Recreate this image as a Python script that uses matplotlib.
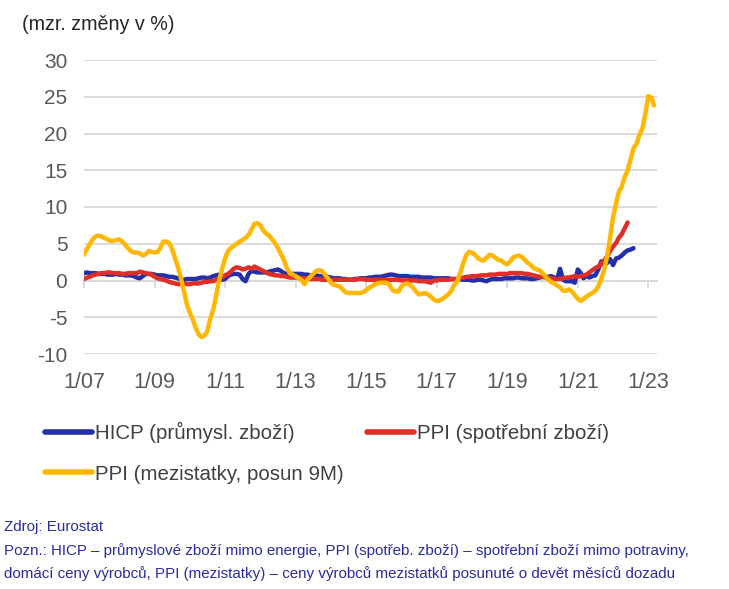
import matplotlib
matplotlib.use("Agg")
import matplotlib.pyplot as plt
import pandas as pd

plt.rcParams['font.family'] = ['Liberation Sans', 'DejaVu Sans']
plt.rcParams['axes.unicode_minus'] = False

title = "(mzr. změny v %)"
labels = ["HICP (průmysl. zboží)", "PPI (spotřební zboží)", "PPI (mezistatky, posun 9M)"]
x_ticks = ["2007-01", "2009-01", "2011-01", "2013-01", "2015-01", "2017-01", "2019-01", "2021-01", "2023-01"]
x_tick_labels = ["1/07", "1/09", "1/11", "1/13", "1/15", "1/17", "1/19", "1/21", "1/23"]
y_ticks = [-10, -5, 0, 5, 10, 15, 20, 25, 30]
source = "Zdroj: Eurostat"
note_lines = ["Pozn.: HICP – průmyslové zboží mimo energie, PPI (spotřeb. zboží) – spotřební zboží mimo potraviny,",
              "domácí ceny výrobců, PPI (mezistatky) – ceny výrobců mezistatků posunuté o devět měsíců dozadu"]

hicp = [
    1.0, 1.1, 1.0, 1.0, 1.0, 0.9, 0.9, 0.9, 0.8, 0.8, 0.8, 0.9,
    0.8, 0.8, 0.7, 0.7, 0.7, 0.6, 0.4, 0.3, 0.6, 0.9, 0.9, 0.9,
    0.8, 0.7, 0.7, 0.7, 0.6, 0.5, 0.5, 0.4, 0.3, 0.1, 0.1, 0.2,
    0.2, 0.2, 0.2, 0.3, 0.4, 0.4, 0.3, 0.4, 0.6, 0.7, 0.8, 0.1,
    0.2, 0.6, 0.8, 0.9, 0.9, 0.8, 0.2, -0.1, 0.9, 1.3, 1.2, 1.1,
    1.1, 1.1, 1.1, 1.2, 1.3, 1.4, 1.5, 1.3, 1.0, 0.9, 0.9, 0.9,
    0.9, 0.9, 0.9, 0.8, 0.8, 0.7, 0.7, 0.7, 0.6, 0.6, 0.6, 0.5,
    0.4, 0.3, 0.3, 0.3, 0.2, 0.2, 0.1, 0.1, 0.2, 0.2, 0.3, 0.3,
    0.3, 0.4, 0.4, 0.5, 0.5, 0.5, 0.6, 0.7, 0.8, 0.8, 0.7, 0.6,
    0.6, 0.6, 0.6, 0.5, 0.5, 0.5, 0.5, 0.4, 0.4, 0.4, 0.4, 0.3,
    0.3, 0.3, 0.3, 0.3, 0.3, 0.2, 0.2, 0.2, 0.2, 0.1, 0.1, 0.1,
    0.0, 0.0, 0.1, 0.1, 0.0, -0.1, 0.1, 0.2, 0.2, 0.2, 0.2, 0.3,
    0.3, 0.3, 0.3, 0.4, 0.4, 0.3, 0.3, 0.3, 0.2, 0.2, 0.3, 0.4,
    0.5, 0.5, 0.5, 0.6, 0.4, 0.2, 1.6, 0.1, -0.1, -0.1, -0.1, -0.3,
    1.5, 1.0, 0.3, 0.7, 0.4, 0.6, 0.7, 1.5, 2.6, 2.1, 2.4, 2.9,
    2.1, 3.0, 3.1, 3.4, 3.8, 4.1, 4.2, 4.4,
]

ppi_cons = [
    0.2, 0.4, 0.5, 0.7, 0.8, 0.9, 1.0, 1.0, 1.1, 1.1, 1.0, 1.0,
    1.0, 0.9, 0.9, 1.0, 1.0, 1.0, 1.0, 1.2, 1.1, 1.0, 0.9, 0.8,
    0.5, 0.3, 0.2, 0.1, 0.0, -0.2, -0.3, -0.4, -0.5, -0.5, -0.4, -0.5,
    -0.5, -0.4, -0.4, -0.4, -0.3, -0.2, -0.2, -0.1, -0.1, 0.1, 0.3, 0.5,
    0.7, 0.9, 1.2, 1.6, 1.8, 1.7, 1.5, 1.6, 1.8, 1.6, 1.9, 1.7,
    1.5, 1.3, 1.1, 0.9, 0.8, 0.7, 0.7, 0.6, 0.6, 0.5, 0.4, 0.4,
    0.4, 0.4, 0.3, 0.3, 0.3, 0.2, 0.2, 0.2, 0.2, 0.1, 0.1, 0.1,
    0.1, 0.1, 0.1, 0.1, 0.1, 0.1, 0.1, 0.1, 0.1, 0.2, 0.2, 0.2,
    0.1, 0.1, 0.1, 0.1, 0.1, 0.1, 0.1, 0.1, 0.1, 0.1, 0.1, 0.1,
    0.0, 0.0, 0.0, 0.0, 0.0, 0.0, -0.1, -0.1, -0.1, -0.2, -0.3, 0.0,
    0.0, 0.1, 0.1, 0.1, 0.1, 0.2, 0.2, 0.2, 0.3, 0.4, 0.5, 0.5,
    0.6, 0.6, 0.6, 0.7, 0.7, 0.7, 0.8, 0.8, 0.8, 0.9, 0.9, 0.9,
    0.9, 1.0, 1.0, 1.0, 1.0, 1.0, 0.9, 0.9, 0.8, 0.7, 0.6, 0.5,
    0.5, 0.4, 0.4, 0.3, 0.2, 0.2, 0.2, 0.3, 0.4, 0.4, 0.5, 0.6,
    0.5, 0.6, 0.7, 0.8, 1.1, 1.4, 1.7, 1.9, 2.3, 2.7, 3.3, 4.0,
    4.6, 5.1, 5.8, 6.3, 7.1, 7.9,
]

ppi_inter = [
    3.5, 4.3, 4.9, 5.6, 6.0, 6.1, 6.0, 5.8, 5.6, 5.4, 5.4, 5.5,
    5.6, 5.3, 4.9, 4.4, 4.0, 3.8, 3.8, 3.7, 3.4, 3.6, 4.0, 3.9,
    3.8, 3.9, 4.4, 5.3, 5.3, 5.1, 4.3, 3.0, 1.8, 0.3, -1.5, -3.2,
    -4.4, -5.3, -6.4, -7.3, -7.7, -7.5, -6.9, -5.2, -3.9, -2.0, 0.0, 1.6,
    3.0, 4.0, 4.4, 4.7, 5.0, 5.3, 5.5, 5.8, 6.2, 6.9, 7.7, 7.8,
    7.5, 6.8, 6.4, 6.1, 5.6, 5.1, 4.4, 3.6, 2.8, 1.7, 1.0, 0.8,
    0.6, 0.3, 0.1, -0.5, 0.1, 0.5, 0.9, 1.3, 1.4, 1.3, 0.8, 0.3,
    -0.3, -0.6, -0.7, -0.8, -1.2, -1.6, -1.7, -1.7, -1.7, -1.7, -1.7, -1.6,
    -1.3, -1.0, -0.8, -0.5, -0.4, -0.3, -0.3, -0.3, -0.6, -1.3, -1.5, -1.5,
    -0.8, -0.5, -0.4, -0.6, -1.0, -1.5, -1.9, -1.8, -1.7, -1.9, -2.2, -2.6,
    -2.8, -2.7, -2.5, -2.2, -1.9, -1.4, -0.6, -0.1, 1.0, 2.3, 3.4, 3.9,
    3.8, 3.5, 3.1, 2.8, 2.7, 3.1, 3.5, 3.4, 3.1, 2.8, 2.7, 2.4,
    2.2, 2.6, 3.1, 3.3, 3.4, 3.2, 2.8, 2.4, 2.1, 1.7, 1.5, 1.4,
    1.0, 0.5, 0.1, -0.2, -0.4, -0.7, -0.9, -1.4, -1.4, -1.2, -1.5, -2.0,
    -2.5, -2.8, -2.5, -2.2, -1.9, -1.7, -1.4, -0.8, 0.2, 1.5, 3.3, 5.8,
    8.6, 10.5, 12.0, 12.8, 14.1, 15.0, 16.5, 18.0, 18.6, 19.8, 20.7, 22.6,
    25.1, 24.9, 23.8,
]

start = "2007-01-01"
d_hicp = pd.date_range(start, periods=len(hicp), freq="MS")
d_ppi = pd.date_range(start, periods=len(ppi_cons), freq="MS")
d_int = pd.date_range(start, periods=len(ppi_inter), freq="MS")

W, H = 729, 589
fig = plt.figure(figsize=(W / 100, H / 100), dpi=100)
ax = fig.add_axes([84 / W, 1 - 354 / H, (657 - 84) / W, (354 - 60) / H])

c_blue = "#2330a8"
c_red = "#df2f26"
c_yel = "#ffb700"
grid_c = "#d9d9d9"
tick_c = "#595959"

lw = 3.2
l1, = ax.plot(d_hicp, hicp, color=c_blue, lw=lw, solid_capstyle="round", solid_joinstyle="round")
l2, = ax.plot(d_ppi, ppi_cons, color=c_red, lw=lw, solid_capstyle="round", solid_joinstyle="round")
l3, = ax.plot(d_int, ppi_inter, color=c_yel, lw=lw, solid_capstyle="round", solid_joinstyle="round")

ax.set_ylim(-10, 30)
ax.set_xlim(pd.Timestamp("2007-01-01"), pd.Timestamp("2023-04-01"))
ax.set_yticks(y_ticks)
ax.yaxis.grid(True, color=grid_c, lw=1.3)
ax.set_axisbelow(True)
for s in ["top", "right", "left"]:
    ax.spines[s].set_visible(False)
ax.spines["bottom"].set_position(("data", 0))
ax.spines["bottom"].set_color(grid_c)
ax.spines["bottom"].set_linewidth(1.3)
ax.spines["bottom"].set_zorder(0.5)
tick_pos = [pd.Timestamp(t) for t in x_ticks]
ax.set_xticks(tick_pos)
ax.tick_params(axis="x", length=5, width=1.3, color=grid_c, labelbottom=False, direction="out")
ax.tick_params(axis="y", length=0, labelsize=15, labelcolor=tick_c, pad=12)

sec = ax.secondary_xaxis(0)
sec.set_xticks(tick_pos, x_tick_labels)
sec.tick_params(length=0, labelsize=15.5, labelcolor=tick_c, pad=13)
sec.spines["bottom"].set_visible(False)

fig.text(22 / W, 1 - 24 / H, title, fontsize=14.2, color="#262626", va="center", ha="left")

leg = fig.legend([l1, l3, l2], [labels[0], labels[2], labels[1]], ncol=2,
                 loc="upper left", bbox_to_anchor=(45 / W, 1 - 422 / H),
                 frameon=False, fontsize=14.8, handlelength=2.3, handletextpad=0.12,
                 columnspacing=1.15, labelspacing=1.05, borderaxespad=0, borderpad=0)
for t in leg.get_texts():
    t.set_color("#404040")
for h in leg.get_lines():
    h.set_linewidth(4)

fc = "#2b2ba0"
fig.text(4 / W, 1 - 527 / H, source, fontsize=10.9, color=fc, va="center", ha="left")
fig.text(4 / W, 1 - 551 / H, note_lines[0], fontsize=10.9, color=fc, va="center", ha="left")
fig.text(4 / W, 1 - 574 / H, note_lines[1], fontsize=10.9, color=fc, va="center", ha="left")
fig.savefig("out.png", dpi=100)
